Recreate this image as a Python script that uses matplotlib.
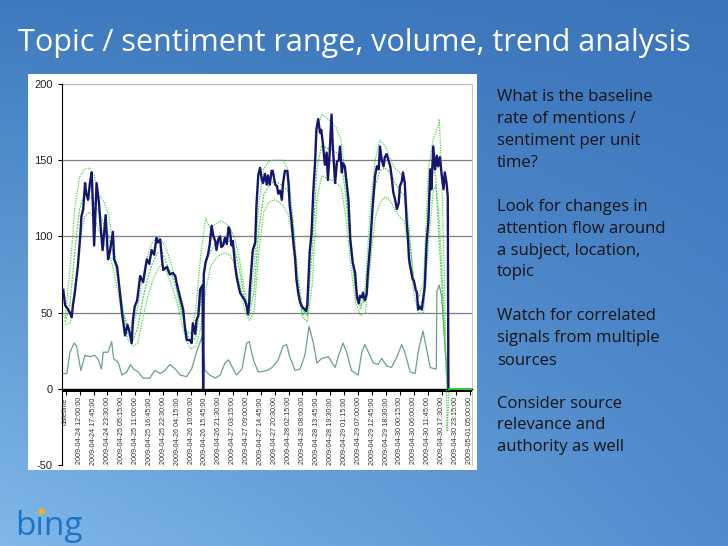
import matplotlib
matplotlib.use("Agg")
import matplotlib.pyplot as plt
import numpy as np

# time axis: hours after 2009-04-24 12:00, 15-minute samples
vol_hours = [-6.75, -6.0, -4.75, -4.0, -3.25, -2.75, -2.0, -0.75, 0.25, 0.75, 1.5, 2.25, 2.75, 3.5,
             4.25, 5.0, 5.5, 6.0, 7.0, 8.0, 8.75, 9.5, 10.75, 11.75, 12.5, 13.75, 14.25, 15.5,
             16.75, 17.5, 18.75, 19.75, 20.5, 21.5, 22.0, 22.75, 23.75, 25.0, 26.25, 27.75, 28.75,
             29.75, 30.75, 31.75, 32.25, 33.25, 34.0, 34.5, 36.0, 37.25, 38.5, 39.5, 40.25, 41.5,
             42.75, 43.5, 44.25, 45.5, 46.25, 46.75, 47.75, 48.25, 49.0, 49.75, 50.75, 51.0, 51.25,
             52.0, 53.0, 53.75, 54.5, 55.25, 56.0, 56.5, 57.25, 58.0, 58.5, 59.25, 60.0, 60.75,
             61.5, 62.0, 62.75, 63.25, 64.25, 65.0, 66.25, 67.0, 68.25, 69.0, 69.5, 70.0, 70.25,
             71.5, 72.5, 73.0, 73.75, 74.5, 75.25, 75.75, 76.5, 77.25, 77.75, 78.5, 79.25, 79.75,
             80.75, 81.5, 82.0, 82.75, 83.5, 84.0, 84.75, 85.75, 86.25, 86.75, 87.5, 88.25, 89.0,
             89.5, 90.25, 91.0, 91.5, 92.25, 93.0, 93.5, 94.0, 94.5, 95.0, 95.75, 96.5, 97.25,
             97.75, 98.5, 99.25, 99.75, 100.5, 101.25, 102.0, 102.5, 103.25, 104.0, 104.5, 105.5,
             106.25, 107.0, 107.5, 108.25, 108.75, 109.5, 110.25, 111.0, 111.75, 112.75, 113.75,
             114.5, 115.25, 115.75, 116.5, 117.0, 117.75, 118.5, 119.0, 120.0, 120.5, 121.0, 122.0,
             122.75, 123.5, 124.0, 124.75, 125.5, 126.0, 126.75, 127.5, 128.25, 128.75, 129.5,
             130.25, 131.0, 131.75, 132.25, 133.0, 133.5, 134.25, 135.0, 135.5, 136.0, 136.5, 137.0,
             137.5, 138.0, 138.75, 139.25, 139.75, 140.5, 141.25, 141.75, 142.5, 143.25, 144.0,
             144.75, 145.25, 146.0, 146.75, 147.5, 148.0, 148.75, 149.5, 150.25, 150.75, 151.5,
             152.0, 152.25]
volume = [65, 55, 52, 50, 47, 55, 63, 80, 100, 113, 118, 135, 128, 124,
          135, 142, 120, 94, 135, 122, 105, 91, 114, 85, 90, 103, 85, 80,
          61, 50, 35, 42, 38, 30, 45, 54, 58, 74, 70, 85, 82,
          91, 88, 99, 96, 98, 85, 78, 80, 75, 76, 74, 68, 60,
          52, 40, 32, 32, 30, 43, 36, 45, 48, 65, 68, 0, 75,
          83, 88, 95, 107, 100, 97, 91, 98, 100, 93, 94, 99, 95,
          106, 104, 94, 97, 80, 72, 63, 61, 58, 54, 49, 56, 65,
          91, 96, 120, 140, 145, 137, 135, 141, 134, 140, 134, 143, 143,
          134, 133, 128, 130, 124, 135, 143, 143, 135, 120, 110, 96, 85,
          72, 63, 57, 55, 53, 52, 51, 55, 72, 90, 102, 130, 150,
          170, 177, 168, 170, 160, 147, 155, 137, 155, 180, 160, 135,
          149, 150, 159, 142, 148, 146, 135, 124, 98, 83, 76,
          60, 56, 61, 60, 63, 58, 62, 76, 95, 107, 120, 140,
          146, 144, 159, 150, 146, 152, 154, 150, 146, 140, 129,
          124, 118, 122, 133, 136, 142, 135, 110, 100, 85, 80, 76,
          72, 71, 65, 63, 52, 54, 52, 58, 67, 96, 110,
          144, 131, 159, 144, 153, 146, 152, 140, 131, 142, 135,
          126, 0]

band_hours = list(range(-6, 147, 2)) + [147, 148, 148.5, 149.5, 150.5, 151.25, 151.75, 152.5, 162]
band_upper = [46, 78, 118, 139, 144, 145, 140, 127, 123, 114, 94, 73, 51, 40, 40, 54, 73, 87, 96, 100,
              97, 91, 81, 67, 50, 38, 36, 52, 88, 112, 105, 108, 110, 109, 106, 99, 85, 65, 51, 80,
              122, 144, 149, 150, 150, 150, 144, 113, 70, 48, 52, 113, 170, 180, 178, 175, 171, 163,
              133, 95, 66, 52, 68, 118, 150, 163, 160, 152, 145, 142, 138, 105, 70, 60, 70, 145, 164,
              168, 172, 177, 140, 80, 20, -28, 0, 0]
band_mid = [44, 55, 90, 118, 128, 127, 122, 115, 108, 100, 88, 70, 50, 36, 32, 40, 58, 72, 82, 89,
            90, 82, 75, 65, 52, 38, 30, 34, 58, 82, 90, 95, 96, 96, 97, 92, 78, 60, 48, 64,
            105, 127, 133, 136, 135, 133, 130, 110, 75, 52, 48, 90, 145, 160, 158, 157, 155, 150,
            125, 90, 64, 55, 58, 100, 133, 143, 145, 142, 136, 130, 127, 100, 70, 55, 58, 118, 148,
            140, 110, 95, 70, 40, 15, 5, 0, 0]
band_lower = [42, 43, 60, 95, 113, 116, 112, 104, 96, 90, 78, 62, 44, 32, 28, 30, 45, 60, 70, 78,
              82, 76, 68, 58, 44, 32, 26, 28, 40, 64, 80, 85, 88, 89, 88, 82, 70, 52, 45, 50,
              90, 116, 122, 124, 123, 120, 115, 98, 66, 47, 44, 68, 125, 140, 138, 137, 135, 132,
              112, 80, 56, 48, 50, 82, 112, 122, 126, 124, 118, 113, 110, 90, 62, 50, 50, 95, 130,
              133, 120, 110, 80, 45, 15, 3, 0, 0]

spread_hours = [-6.75, -5.25, -4.0, -2.25, -1.25, 0.5, 2.25, 4.25, 6.25, 7.75, 9.0, 9.75, 11.75,
                13.25, 14.0, 16.0, 17.5, 19.5, 21.0, 22.25, 24.25, 26.25, 29.0, 31.0, 33.25, 35.25,
                37.25, 39.5, 41.5, 44.25, 46.25, 48.25, 50.5, 51.75, 53.75, 56.0, 58.0, 60.0, 61.5,
                62.75, 64.75, 67.0, 69.0, 70.0, 71.75, 73.75, 77.25, 79.5, 82.0, 84.0, 85.5, 86.75,
                89.0, 91.0, 93.0, 94.75, 96.5, 98.0, 100.0, 102.75, 105.5, 106.75, 108.75, 110.25,
                112.25, 115.0, 116.5, 117.75, 119.25, 121.25, 123.25, 124.75, 126.75, 128.75, 131.0,
                133.0, 134.25, 136.5, 138.5, 139.75, 141.75, 143.25, 144.75, 146.75, 147.25, 147.5,
                148.5, 149.5, 150.75, 152.25, 162.0]
spread = [10, 10, 24, 30, 28, 12, 22, 21, 22, 19, 13, 24, 24,
          31, 20, 17, 9, 11, 16, 13, 11, 7, 7, 12, 10, 12,
          16, 13, 9, 8, 13, 24, 34, 12, 9, 7, 9, 17, 19,
          15, 9, 13, 30, 31, 19, 11, 12, 14, 19, 28, 29, 21,
          12, 13, 22, 41, 30, 17, 20, 21, 14, 21, 30, 24,
          12, 9, 24, 29, 24, 17, 16, 20, 15, 14, 21,
          29, 24, 11, 10, 24, 38, 26, 14, 13, 13, 64,
          68, 60, 30, 0, 0]

tick_hours = [-5.75, 0, 5.75, 11.5, 17.25, 23, 28.75, 34.5, 40.25, 46, 51.75, 57.5, 63.25, 69,
              74.75, 80.5, 86.25, 92, 97.75, 103.5, 109.25, 115, 120.75, 126.5, 132.25, 138,
              143.75, 149.5, 155.25, 161]
tick_labels = ["datetime", "2009-04-24 12:00:00", "2009-04-24 17:45:00", "2009-04-24 23:30:00",
               "2009-04-25 05:15:00", "2009-04-25 11:00:00", "2009-04-25 16:45:00",
               "2009-04-25 22:30:00", "2009-04-26 04:15:00", "2009-04-26 10:00:00",
               "2009-04-26 15:45:00", "2009-04-26 21:30:00", "2009-04-27 03:15:00",
               "2009-04-27 09:00:00", "2009-04-27 14:45:00", "2009-04-27 20:30:00",
               "2009-04-28 02:15:00", "2009-04-28 08:00:00", "2009-04-28 13:45:00",
               "2009-04-28 19:30:00", "2009-04-29 01:15:00", "2009-04-29 07:00:00",
               "2009-04-29 12:45:00", "2009-04-29 18:30:00", "2009-04-30 00:15:00",
               "2009-04-30 06:00:00", "2009-04-30 11:45:00", "2009-04-30 17:30:00",
               "2009-04-30 23:15:00", "2009-05-01 05:00:00"]
y_ticks = [-50, 0, 50, 100, 150, 200]
y_labels = ["-50", "0", "50", "100", "150", "200"]

title = "Topic / sentiment range, volume, trend analysis"
notes = [["What is the baseline", "rate of mentions /", "sentiment per unit", "time?"],
         ["Look for changes in", "attention flow around", "a subject, location,", "topic"],
         ["Watch for correlated", "signals from multiple", "sources"],
         ["Consider source", "relevance and", "authority as well"]]

W, H = 728, 546
fig = plt.figure(figsize=(W / 100, H / 100), dpi=100)

# slide background: blue gradient, lighter towards lower left
yy, xx = np.mgrid[0:1:200j, 0:1:300j]
tl = np.array([62, 122, 190]) / 255
tr = np.array([60, 116, 186]) / 255
bl = np.array([128, 184, 233]) / 255
br = np.array([82, 140, 206]) / 255
grad = ((1 - xx)[..., None] * (1 - yy)[..., None] * tl + xx[..., None] * (1 - yy)[..., None] * tr
        + (1 - xx)[..., None] * yy[..., None] * bl + xx[..., None] * yy[..., None] * br)
bg = fig.add_axes([0, 0, 1, 1])
bg.imshow(grad, aspect='auto', extent=[0, 1, 1, 0])
bg.set_xlim(0, 1)
bg.set_ylim(1, 0)
bg.axis('off')

# white chart panel
panel = fig.add_axes([28 / W, 1 - 470 / H, 449 / W, 396 / H])
panel.set_facecolor('white')
panel.set_xticks([])
panel.set_yticks([])
for s in panel.spines.values():
    s.set_visible(False)

ax = fig.add_axes([62 / W, 1 - 465 / H, 410 / W, 381 / H])
ax.set_facecolor('white')
ax.set_xlim(-7.27, 162.0)
ax.set_ylim(-50, 200)

for g in [50, 100, 150]:
    ax.axhline(g, color='#7f7f7f', lw=0.9, zorder=1)
ax.axhline(200, color='#b8b8b8', lw=0.9, zorder=1)
ax.axhspan(-2.4, 0, color='black', lw=0, zorder=2)

# std line and the three band lines (all dotted, light green)
ax.plot(spread_hours, spread, color='#6a9f92', lw=0.9, zorder=3)
ax.plot(band_hours, band_lower, color='#4cd44c', lw=0.9, ls=(0, (1, 1)), zorder=3)
ax.plot(band_hours, band_mid, color='#4cd44c', lw=0.9, ls=(0, (1.5, 1)), zorder=3)
ax.plot(band_hours, band_upper, color='#4cd44c', lw=0.9, ls=(0, (1, 1)), zorder=3)
ax.plot(vol_hours, volume, color='#16166e', lw=1.7, zorder=4)
# the bands sit on the zero line after the series stops
ax.plot(band_hours[-2:], band_mid[-2:], color='#33cc33', lw=1.2, zorder=5)

ax.spines['top'].set_visible(False)
ax.spines['right'].set_color('#c8c8c8')
ax.spines['left'].set_color('black')
ax.spines['left'].set_linewidth(0.8)
ax.spines['bottom'].set_position(('data', 0))
ax.spines['bottom'].set_linewidth(1)

ax.set_yticks(y_ticks)
ax.set_yticklabels(y_labels, fontsize=8, family='Liberation Sans', color='#222222')
ax.tick_params(axis='y', direction='out', length=3, width=0.8)
ax.set_xticks(tick_hours)
ax.set_xticklabels(tick_labels, rotation=90, fontsize=5.2, family='Liberation Sans',
                   color='#333333')
ax.tick_params(axis='x', direction='out', length=4, width=0.8, pad=2)

fig.text(18 / W, 1 - 51 / H, title, color='white', fontsize=22, family='Open Sans',
         va='baseline', ha='left')

ys = [[97, 119, 141, 163], [207, 229, 251, 272], [316, 338, 361], [404, 425, 447]]
for block, yb in zip(notes, ys):
    for line, y in zip(block, yb):
        fig.text(497 / W, 1 - y / H, line, color='#141414', fontsize=12, family='Open Sans',
                 va='center', ha='left')

fig.text(15 / W, 1 - 535 / H, "b\u0131ng", color='#1c74c6', fontsize=24, family='Open Sans',
         va='baseline', ha='left')
bg.plot([40.5 / W], [511 / H], 'o', color='#f2b51c', ms=4.5, mec='none')

fig.savefig('out.png', dpi=100)
